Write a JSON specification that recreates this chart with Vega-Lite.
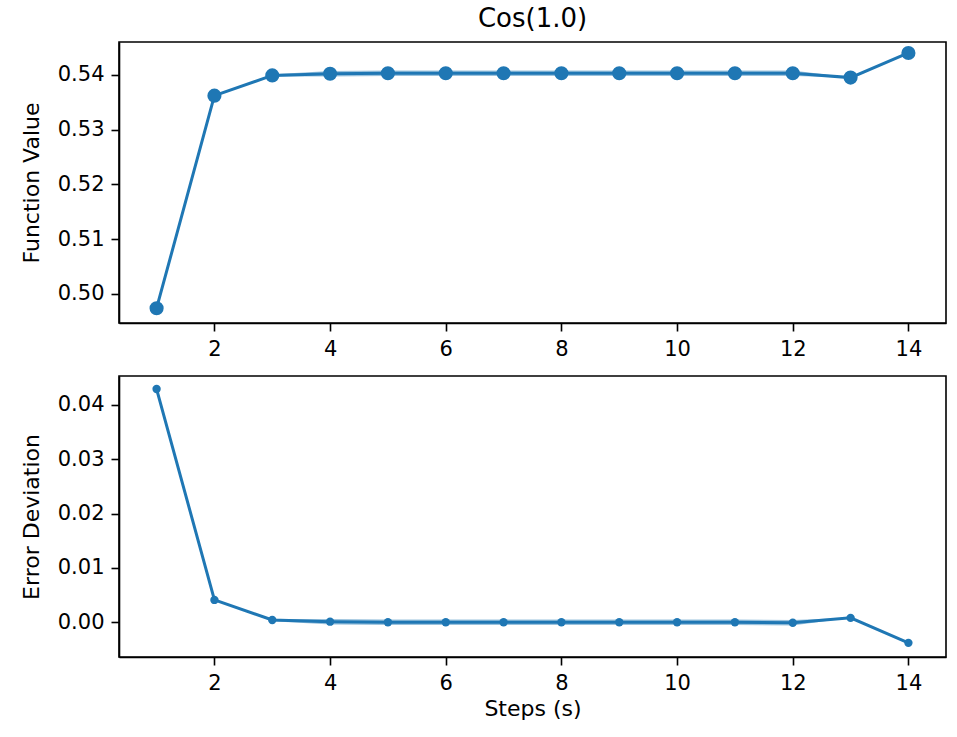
{
  "$schema": "https://vega.github.io/schema/vega-lite/v6.json",
  "background": "white",
  "padding": {"left": 19, "top": 5, "right": 10, "bottom": 5},
  "config": {
    "font": "DejaVu Sans",
    "view": {"stroke": "black", "strokeWidth": 1.6},
    "axis": {
      "grid": false,
      "domainColor": "black",
      "domainWidth": 1.6,
      "tickColor": "black",
      "tickWidth": 1.6,
      "tickSize": 8,
      "labelColor": "black",
      "labelFontSize": 21,
      "labelPadding": 7,
      "titleColor": "black",
      "titleFontSize": 22,
      "titleFontWeight": "normal"
    },
    "title": {"fontSize": 26, "fontWeight": "normal", "color": "black"}
  },
  "data": {"values": [
    {"step": 1, "value": 0.4974, "vlo": 0.4974, "vhi": 0.4974, "error": 0.0429, "elo": 0.0429, "ehi": 0.0429},
    {"step": 2, "value": 0.5362, "vlo": 0.5362, "vhi": 0.5362, "error": 0.0041, "elo": 0.0041, "ehi": 0.0041},
    {"step": 3, "value": 0.5399, "vlo": 0.5397, "vhi": 0.5401, "error": 0.0004, "elo": 0.0002, "ehi": 0.0006},
    {"step": 4, "value": 0.5402, "vlo": 0.5397, "vhi": 0.5407, "error": 0.0001, "elo": -0.0004, "ehi": 0.0006},
    {"step": 5, "value": 0.5403, "vlo": 0.5398, "vhi": 0.5408, "error": 0.0000, "elo": -0.0005, "ehi": 0.0005},
    {"step": 6, "value": 0.5403, "vlo": 0.5398, "vhi": 0.5408, "error": 0.0000, "elo": -0.0005, "ehi": 0.0005},
    {"step": 7, "value": 0.5403, "vlo": 0.5398, "vhi": 0.5408, "error": 0.0000, "elo": -0.0005, "ehi": 0.0005},
    {"step": 8, "value": 0.5403, "vlo": 0.5398, "vhi": 0.5408, "error": 0.0000, "elo": -0.0005, "ehi": 0.0005},
    {"step": 9, "value": 0.5403, "vlo": 0.5398, "vhi": 0.5408, "error": 0.0000, "elo": -0.0005, "ehi": 0.0005},
    {"step": 10, "value": 0.5403, "vlo": 0.5398, "vhi": 0.5408, "error": 0.0000, "elo": -0.0005, "ehi": 0.0005},
    {"step": 11, "value": 0.5403, "vlo": 0.5398, "vhi": 0.5408, "error": 0.0000, "elo": -0.0005, "ehi": 0.0005},
    {"step": 12, "value": 0.5403, "vlo": 0.5398, "vhi": 0.5408, "error": -0.0001, "elo": -0.0006, "ehi": 0.0004},
    {"step": 13, "value": 0.5395, "vlo": 0.5395, "vhi": 0.5395, "error": 0.0008, "elo": 0.0008, "ehi": 0.0008},
    {"step": 14, "value": 0.5440, "vlo": 0.5440, "vhi": 0.5440, "error": -0.0038, "elo": -0.0038, "ehi": -0.0038}
  ]},
  "spacing": 15,
  "vconcat": [
    {
      "width": 827,
      "height": 281,
      "title": {"text": "Cos(1.0)", "anchor": "middle", "frame": "group", "offset": 10, "fontSize": 26},
      "encoding": {
        "x": {"field": "step", "type": "quantitative",
              "scale": {"domain": [0.35, 14.65], "nice": false, "zero": false},
              "axis": {"title": null, "values": [2, 4, 6, 8, 10, 12, 14], "format": "d", "labelFontSize": 21}}
      },
      "layer": [
        {"mark": {"type": "area", "color": "#1f77b4", "opacity": 0.45},
         "encoding": {"y": {"field": "vlo", "type": "quantitative"}, "y2": {"field": "vhi"}}},
        {"mark": {"type": "line", "color": "#1f77b4", "strokeWidth": 3},
         "encoding": {"y": {"field": "value", "type": "quantitative",
            "scale": {"domain": [0.4947, 0.546], "nice": false, "zero": false},
            "axis": {"title": "Function Value", "values": [0.5, 0.51, 0.52, 0.53, 0.54], "format": ".2f", "titlePadding": 14, "labelFontSize": 21, "titleFontSize": 22}}}},
        {"mark": {"type": "point", "filled": true, "color": "#1f77b4", "opacity": 1, "size": 200},
         "encoding": {"y": {"field": "value", "type": "quantitative"}}}
      ]
    },
    {
      "width": 827,
      "height": 281,
      "encoding": {
        "x": {"field": "step", "type": "quantitative",
              "scale": {"domain": [0.35, 14.65], "nice": false, "zero": false},
              "axis": {"title": "Steps (s)", "values": [2, 4, 6, 8, 10, 12, 14], "format": "d", "titlePadding": 5, "labelFontSize": 21, "titleFontSize": 22}}
      },
      "layer": [
        {"mark": {"type": "area", "color": "#1f77b4", "opacity": 0.45},
         "encoding": {"y": {"field": "elo", "type": "quantitative"}, "y2": {"field": "ehi"}}},
        {"mark": {"type": "line", "color": "#1f77b4", "strokeWidth": 3},
         "encoding": {"y": {"field": "error", "type": "quantitative",
            "scale": {"domain": [-0.0064, 0.0453], "nice": false, "zero": false},
            "axis": {"title": "Error Deviation", "values": [0, 0.01, 0.02, 0.03, 0.04], "format": ".2f", "titlePadding": 14, "labelFontSize": 21, "titleFontSize": 22}}}},
        {"mark": {"type": "point", "filled": true, "color": "#1f77b4", "opacity": 1, "size": 70},
         "encoding": {"y": {"field": "error", "type": "quantitative"}}}
      ]
    }
  ]
}
